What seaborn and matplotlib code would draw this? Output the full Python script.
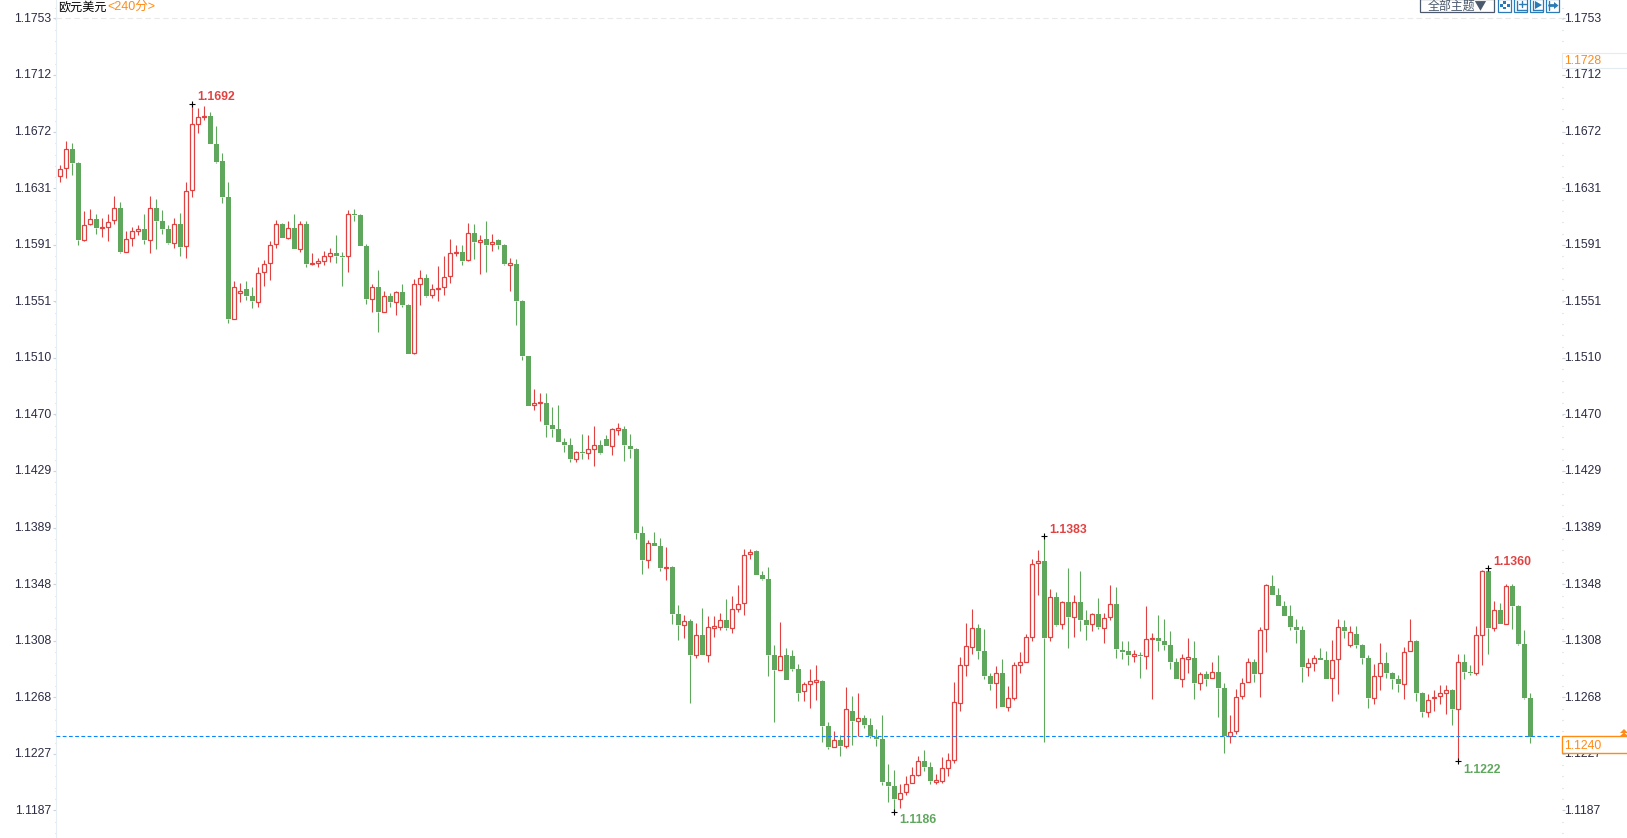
import matplotlib
matplotlib.use("Agg")
import matplotlib.pyplot as plt
from matplotlib.patches import Rectangle, Polygon
from matplotlib.lines import Line2D
from matplotlib.ticker import AutoMinorLocator
from matplotlib.transforms import ScaledTranslation
import numpy as np
import pandas as pd
import seaborn as sns

# ------------------------------------------------------------------ data
highs = [
 1.16482,1.16653,1.16639,1.16505,1.16153,1.16167,1.16131,1.16103,1.16131,1.16260,
 1.16217,1.16010,1.16039,1.16053,1.16131,1.16260,1.16239,1.16160,1.16053,1.16103,
 1.16139,1.16360,1.16917,1.16889,1.16903,1.16860,1.16760,1.16567,1.16360,1.15653,
 1.15638,1.15653,1.15610,1.15753,1.15803,1.15938,1.16089,1.16067,1.16081,1.16131,
 1.16079,1.16079,1.15853,1.15815,1.15867,1.15889,1.15981,1.15860,1.16160,1.16167,
 1.16131,1.15917,1.15631,1.15731,1.15581,1.15567,1.15581,1.15631,1.15488,1.15667,
 1.15731,1.15703,1.15631,1.15760,1.15831,1.15953,1.15910,1.15910,1.16067,1.16060,
 1.15981,1.16081,1.15989,1.15953,1.15917,1.15817,1.15810,1.15515,1.15117,1.14881,
 1.14853,1.14853,1.14753,1.14767,1.14531,1.14531,1.14438,1.14560,1.14553,1.14617,
 1.14517,1.14553,1.14603,1.14638,1.14617,1.14560,1.14460,1.13902,1.13802,1.13859,
 1.13816,1.13752,1.13616,1.13338,1.13266,1.13238,1.13209,1.13316,1.13259,1.13259,
 1.13281,1.13381,1.13402,1.13481,1.13738,1.13738,1.13731,1.13581,1.13609,1.13052,
 1.13216,1.13030,1.13016,1.12916,1.12787,1.12880,1.12909,1.12802,1.12502,1.12437,
 1.12409,1.12752,1.12687,1.12709,1.12552,1.12530,1.12451,1.12552,1.12201,1.12158,
 1.12058,1.12116,1.12180,1.12259,1.12301,1.12216,1.12130,1.12251,1.12280,1.12787,
 1.12966,1.13209,1.13309,1.13202,1.13166,1.12852,1.12902,1.12952,1.12759,1.12930,
 1.13002,1.13130,1.13666,1.13731,1.13831,1.13452,1.13431,1.13366,1.13602,1.13409,
 1.13581,1.13302,1.13280,1.13388,1.13280,1.13481,1.13466,1.13080,1.13080,1.13016,
 1.13002,1.13331,1.13138,1.13266,1.13238,1.13152,1.12959,1.12988,1.13102,1.13080,
 1.12859,1.12866,1.12930,1.12980,1.12780,1.12551,1.12737,1.12815,1.12958,1.12951,
 1.13180,1.13487,1.13551,1.13459,1.13366,1.13337,1.13237,1.13187,1.12958,1.12980,
 1.13030,1.13008,1.13087,1.13237,1.13230,1.13187,1.13187,1.13058,1.12980,1.12915,
 1.13065,1.13001,1.12858,1.12837,1.13037,1.13237,1.13087,1.12715,1.12701,1.12730,
 1.12765,1.12765,1.12737,1.12987,1.12987,1.12908,1.13187,1.13587,1.13601,1.13366,
 1.13352,1.13487,1.13487,1.13337,1.13159,1.12709,
]
body_tops = [
 1.16451,1.16594,1.16596,1.16496,1.16050,1.16093,1.16096,1.16036,1.16072,1.16172,
 1.16174,1.15950,1.16008,1.16022,1.16024,1.16172,1.16174,1.16081,1.16024,1.16058,
 1.16060,1.16293,1.16772,1.16822,1.16832,1.16832,1.16632,1.16510,1.16253,1.15607,
 1.15581,1.15595,1.15545,1.15707,1.15772,1.15908,1.16058,1.16060,1.16029,1.16031,
 1.16058,1.16060,1.15779,1.15793,1.15829,1.15850,1.15853,1.15831,1.16129,1.16131,
 1.16124,1.15903,1.15607,1.15610,1.15543,1.15546,1.15572,1.15574,1.15481,1.15629,
 1.15672,1.15674,1.15593,1.15603,1.15679,1.15850,1.15860,1.15860,1.15993,1.15996,
 1.15943,1.15950,1.15929,1.15946,1.15910,1.15779,1.15774,1.15510,1.15117,1.14779,
 1.14786,1.14781,1.14624,1.14595,1.14502,1.14481,1.14429,1.14431,1.14450,1.14479,
 1.14481,1.14524,1.14593,1.14600,1.14595,1.14474,1.14452,1.13852,1.13778,1.13781,
 1.13759,1.13609,1.13609,1.13273,1.13221,1.13223,1.13121,1.13123,1.13178,1.13185,
 1.13228,1.13230,1.13307,1.13342,1.13693,1.13719,1.13721,1.13552,1.13523,1.12980,
 1.12971,1.12980,1.12973,1.12880,1.12771,1.12792,1.12799,1.12794,1.12473,1.12370,
 1.12373,1.12592,1.12580,1.12528,1.12530,1.12480,1.12394,1.12380,1.12073,1.12044,
 1.11992,1.12056,1.12120,1.12220,1.12223,1.12180,1.12085,1.12170,1.12228,1.12642,
 1.12906,1.13042,1.13171,1.13173,1.13009,1.12830,1.12849,1.12852,1.12671,1.12907,
 1.12928,1.13107,1.13628,1.13650,1.13652,1.13392,1.13395,1.13357,1.13359,1.13357,
 1.13359,1.13230,1.13271,1.13273,1.13242,1.13342,1.13345,1.13016,1.13009,1.12988,
 1.12980,1.13092,1.13104,1.13102,1.13080,1.13052,1.12930,1.12957,1.12966,1.12959,
 1.12842,1.12844,1.12856,1.12856,1.12744,1.12427,1.12677,1.12777,1.12927,1.12930,
 1.13156,1.13478,1.13473,1.13409,1.13330,1.13258,1.13180,1.13158,1.12920,1.12956,
 1.12958,1.12944,1.12942,1.13177,1.13180,1.13142,1.13130,1.13051,1.12958,1.12827,
 1.12920,1.12923,1.12851,1.12808,1.12999,1.13077,1.13080,1.12708,1.12656,1.12680,
 1.12706,1.12727,1.12730,1.12927,1.12930,1.12858,1.13120,1.13578,1.13580,1.13299,
 1.13302,1.13473,1.13473,1.13330,1.13059,1.12673,
]
body_bottoms = [
 1.16405,1.16458,1.16498,1.15946,1.15948,1.16058,1.16031,1.16029,1.16036,1.16086,
 1.15860,1.15862,1.15958,1.16012,1.15946,1.15948,1.16081,1.16024,1.15924,1.15927,
 1.15896,1.15900,1.16301,1.16777,1.16827,1.16632,1.16503,1.16253,1.15381,1.15383,
 1.15565,1.15545,1.15510,1.15505,1.15715,1.15779,1.15915,1.15960,1.15962,1.15881,
 1.15884,1.15774,1.15774,1.15784,1.15798,1.15834,1.15831,1.15827,1.15829,1.16127,
 1.15903,1.15524,1.15526,1.15431,1.15434,1.15503,1.15505,1.15481,1.15131,1.15136,
 1.15634,1.15546,1.15550,1.15596,1.15607,1.15686,1.15853,1.15796,1.15800,1.15931,
 1.15934,1.15910,1.15915,1.15910,1.15774,1.15769,1.15510,1.15117,1.14762,1.14765,
 1.14779,1.14624,1.14595,1.14502,1.14481,1.14381,1.14383,1.14426,1.14426,1.14455,
 1.14424,1.14474,1.14476,1.14591,1.14481,1.14452,1.13852,1.13659,1.13662,1.13759,
 1.13602,1.13602,1.13273,1.13195,1.13197,1.12980,1.12983,1.12980,1.12983,1.13176,
 1.13183,1.13173,1.13176,1.13311,1.13349,1.13700,1.13552,1.13523,1.12980,1.12873,
 1.12875,1.12802,1.12880,1.12709,1.12725,1.12775,1.12790,1.12473,1.12323,1.12325,
 1.12330,1.12332,1.12509,1.12511,1.12480,1.12401,1.12380,1.12073,1.12044,1.11951,
 1.11954,1.12004,1.12063,1.12125,1.12180,1.12080,1.12075,1.12082,1.12175,1.12232,
 1.12635,1.12911,1.13035,1.13009,1.12830,1.12773,1.12778,1.12609,1.12611,1.12675,
 1.12911,1.12933,1.13111,1.13635,1.13102,1.13107,1.13195,1.13200,1.13252,1.13254,
 1.13230,1.13195,1.13200,1.13180,1.13176,1.13250,1.13023,1.13002,1.12980,1.12973,
 1.12976,1.12976,1.13097,1.13080,1.13052,1.12930,1.12809,1.12811,1.12954,1.12780,
 1.12783,1.12809,1.12813,1.12744,1.12399,1.12401,1.12434,1.12684,1.12784,1.12844,
 1.12849,1.13163,1.13409,1.13330,1.13258,1.13180,1.13158,1.12894,1.12896,1.12925,
 1.12944,1.12808,1.12813,1.12949,1.13151,1.13049,1.13051,1.12958,1.12672,1.12675,
 1.12832,1.12851,1.12808,1.12773,1.12775,1.13006,1.12708,1.12572,1.12575,1.12672,
 1.12684,1.12711,1.12594,1.12596,1.12858,1.12853,1.12853,1.13125,1.13173,1.13175,
 1.13202,1.13204,1.13330,1.13059,1.12673,1.12397,
]
lows = [
 1.16362,1.16391,1.16410,1.15910,1.15938,1.16055,1.15989,1.15967,1.15938,1.16062,
 1.15855,1.15862,1.15903,1.15981,1.15915,1.15853,1.15881,1.15989,1.15917,1.15888,
 1.15831,1.15817,1.16253,1.16710,1.16803,1.16632,1.16493,1.16210,1.15353,1.15381,
 1.15503,1.15517,1.15460,1.15467,1.15617,1.15660,1.15888,1.15960,1.15953,1.15881,
 1.15860,1.15753,1.15767,1.15753,1.15767,1.15788,1.15781,1.15617,1.15717,1.16081,
 1.15903,1.15488,1.15431,1.15288,1.15434,1.15467,1.15410,1.15467,1.15131,1.15133,
 1.15481,1.15538,1.15531,1.15510,1.15553,1.15638,1.15831,1.15767,1.15797,1.15810,
 1.15703,1.15717,1.15867,1.15881,1.15767,1.15581,1.15338,1.15090,1.14762,1.14731,
 1.14653,1.14538,1.14538,1.14502,1.14431,1.14360,1.14360,1.14381,1.14381,1.14331,
 1.14417,1.14474,1.14410,1.14553,1.14367,1.14388,1.13809,1.13559,1.13602,1.13759,
 1.13581,1.13516,1.13202,1.13088,1.13102,1.12641,1.12959,1.12980,1.12930,1.13109,
 1.13159,1.13159,1.13138,1.13288,1.13266,1.13666,1.13552,1.13516,1.12830,1.12502,
 1.12875,1.12802,1.12866,1.12652,1.12652,1.12602,1.12659,1.12359,1.12309,1.12325,
 1.12259,1.12316,1.12337,1.12401,1.12459,1.12387,1.12330,1.12051,1.11929,1.11858,
 1.11886,1.11980,1.12063,1.12116,1.12151,1.12058,1.12058,1.12066,1.12116,1.12209,
 1.12580,1.12830,1.12988,1.12952,1.12809,1.12730,1.12602,1.12609,1.12580,1.12659,
 1.12852,1.12933,1.13080,1.13409,1.12358,1.13080,1.13188,1.13166,1.13030,1.13109,
 1.13152,1.13088,1.13152,1.13166,1.13066,1.13230,1.12959,1.12952,1.12909,1.12930,
 1.12816,1.12880,1.12666,1.13009,1.13016,1.12880,1.12809,1.12752,1.12852,1.12666,
 1.12730,1.12759,1.12813,1.12537,1.12279,1.12351,1.12415,1.12665,1.12784,1.12787,
 1.12680,1.13001,1.13409,1.13330,1.13258,1.13158,1.13065,1.12787,1.12830,1.12865,
 1.12944,1.12808,1.12651,1.12701,1.13101,1.13037,1.13030,1.12915,1.12601,1.12630,
 1.12730,1.12815,1.12737,1.12715,1.12665,1.13006,1.12651,1.12537,1.12537,1.12580,
 1.12630,1.12558,1.12480,1.12215,1.12808,1.12837,1.12837,1.12908,1.12987,1.13152,
 1.13202,1.13204,1.13166,1.13052,1.12666,1.12351,
]
# 1 = close above open (hollow red), 0 = close below open (solid green)
rising = [
 1,1,0,0,1,1,0,1,1,1, 0,1,1,1,0,1,0,0,0,1, 0,1,1,1,1,0,0,0,0,1,
 1,0,0,1,1,1,1,0,1,0, 1,0,1,1,1,1,0,0,1,0, 0,0,1,0,1,0,1,0,0,1,
 1,0,1,1,1,1,1,0,1,0, 1,0,1,0,0,1,0,0,0,1, 1,0,0,0,0,0,1,0,1,1,
 0,0,1,1,0,0,0,0,1,0, 0,1,0,0,1,0,1,0,1,1, 1,0,1,1,1,1,0,0,0,0,
 1,0,0,0,1,1,1,0,0,1, 0,1,0,1,0,0,0,0,0,0, 1,1,1,1,0,0,1,1,1,1,
 1,1,1,0,0,0,1,0,1,1, 1,1,1,1,0,1,0,1,0,1, 0,0,1,0,1,1,0,0,0,1,
 0,1,1,0,0,0,0,1,1,0, 1,0,1,0,0,1,1,1,1,0, 1,1,0,0,0,0,0,0,1,1,
 0,0,1,1,0,1,0,0,0,1, 1,0,0,0,1,1,0,0,1,1, 1,1,0,1,0,0,1,1,0,1,
 0,1,0,0,0,0,
]
tick_values = [1.17530,1.17126,1.16721,1.16317,1.15913,1.15509,1.15104,1.14700,
               1.14296,1.13891,1.13487,1.13083,1.12679,1.12274,1.11870]
tick_labels = ["1.1753","1.1712","1.1672","1.1631","1.1591","1.1551","1.1510","1.1470",
               "1.1429","1.1389","1.1348","1.1308","1.1268","1.1227","1.1187"]
extreme_index = [22, 164, 238, 233, 139]
extreme_value = [1.1692, 1.1383, 1.1360, 1.1222, 1.1186]
extreme_label = ["1.1692", "1.1383", "1.1360", "1.1222", "1.1186"]
extreme_is_high = [True, True, True, False, False]
last_price = 1.1240
period_high = "1.1728"
last_label = "1.1240"

df = pd.DataFrame({"i": np.arange(len(highs)), "high": highs, "low": lows,
                   "top": body_tops, "bottom": body_bottoms, "rising": rising})
df["height"] = df["top"] - df["bottom"]
extremes = pd.DataFrame({"i": extreme_index, "price": extreme_value,
                         "label": extreme_label, "is_high": extreme_is_high})

RED = "#e04242"
GREEN = "#5fa75d"
BLUE = "#0a84ff"
ORANGE = "#ff8a14"
AXIS_TXT = "#2c2c44"
ICON = "#2a7bb8"

W, H = 1627, 838
sns.set_theme(style="white")
plt.rcParams["font.family"] = ["Liberation Sans", "Noto Sans CJK SC", "DejaVu Sans"]

fig = plt.figure(figsize=(W / 100, H / 100), dpi=100, facecolor="white")
ax = fig.add_axes([56 / W, 0, (1562 - 56) / W, 1], facecolor="white")


def fx(x):
    return x / W


def fy(y):
    return 1 - y / H


# wicks (not through the hollow bodies)
for flag, c in ((1, RED), (0, GREEN)):
    sub = df[df.rising == flag]
    for a, b in (("top", "high"), ("low", "bottom")):
        lc = ax.vlines(sub["i"], sub[a], sub[b], color=c, linewidth=0.8, zorder=2)
        lc.set_snap(True)

# bodies
down = df[df.rising == 0]
up = df[df.rising == 1]
sns.barplot(data=down, x="i", y="height", bottom=down["bottom"].values, native_scale=True,
            width=0.82, color=GREEN, saturation=1, errorbar=None, linewidth=0,
            legend=False, ax=ax, zorder=3)
sns.barplot(data=up, x="i", y="height", bottom=up["bottom"].values, native_scale=True,
            width=0.68, color=RED, saturation=1, errorbar=None, linewidth=0.9,
            edgecolor=RED, facecolor="white", legend=False, ax=ax, zorder=3)

# extreme markers and labels
sns.scatterplot(data=extremes, x="i", y="price", marker="+", s=20, color="black",
                linewidth=0.8, legend=False, ax=ax, zorder=5)
for _, row in extremes.iterrows():
    hi = row["is_high"]
    ax.annotate(row["label"], (row["i"], row["price"]), xytext=(3.4, 4.5 if hi else -6.0),
                textcoords="offset points", ha="left", va="center", fontsize=8.8,
                fontweight="bold", color=RED if hi else GREEN, zorder=6)

# last price and top grid
ax.axhline(last_price, color=BLUE, linewidth=0.8, linestyle=(0, (3.4, 2.2)), zorder=4)
ax.axhline(tick_values[0], color="#e9e9e9", linewidth=0.8, linestyle=(0, (5, 3)), zorder=1)

# scales: pixel 18.3 is the top tick, 810.4 the bottom tick
ax.set_xlim((56 - 60.3) / 6, (1562 - 60.3) / 6)
per_px = (tick_values[0] - tick_values[-1]) / (810.4 - 18.3)
ax.set_ylim(tick_values[0] - (H - 18.3) * per_px, tick_values[0] + 18.3 * per_px)
ax.set_xlabel("")
ax.set_ylabel("")
ax.set_xticks([])
ax.set_yticks(tick_values)
ax.set_yticklabels(tick_labels)
ax.yaxis.set_minor_locator(AutoMinorLocator(5))
ax.tick_params(axis="y", which="major", left=True, right=True, labelleft=True, labelright=True,
               length=2.2, width=0.8, color="#c9d5dd", labelsize=8.8, labelcolor=AXIS_TXT, pad=0.6)
ax.tick_params(axis="y", which="minor", left=True, right=True, length=1.0, width=0.8, color="#cfd4d8")
for tick in ax.yaxis.get_major_ticks():
    tick.label1.set_transform(tick.label1.get_transform()
                              + ScaledTranslation(-1 / 100, 1 / 100, fig.dpi_scale_trans))
    tick.label2.set_transform(tick.label2.get_transform()
                              + ScaledTranslation(-2 / 100, 1 / 100, fig.dpi_scale_trans))
for s in ("top", "bottom", "right"):
    ax.spines[s].set_visible(False)
ax.spines["left"].set_color("#e6eef4")
ax.spines["left"].set_linewidth(0.8)

# title
fig.text(fx(58), fy(7), "欧元美元", fontsize=8.7, color="black", va="center", ha="left",
         family=["Noto Sans CJK SC", "DejaVu Sans"])
fig.text(fx(107.5), fy(7), "<240分>", fontsize=9.0, color=ORANGE, va="center", ha="left",
         family=["Liberation Sans", "Noto Sans CJK SC"])

# top-right controls
fig.add_artist(Rectangle((fx(1420), fy(12)), 74 / W, 13 / H, transform=fig.transFigure,
                         facecolor="white", edgecolor="#4a5a6c", linewidth=0.9))
fig.text(fx(1457), fy(6), "全部主题▼", fontsize=8.6, color="#4a5a6c", ha="center", va="center",
         family=["Noto Sans CJK SC", "DejaVu Sans"])


def line(x0, y0, x1, y1, lw=1.0):
    fig.add_artist(Line2D([fx(x0), fx(x1)], [fy(y0), fy(y1)], transform=fig.transFigure,
                          color=ICON, linewidth=lw))


for x0 in (1498, 1514, 1530, 1546):
    fig.add_artist(Rectangle((fx(x0), fy(12)), 13 / W, 13 / H, transform=fig.transFigure,
                             facecolor="white", edgecolor=ICON, linewidth=0.9))
# icon 1: cross of dots
for dx, dy in ((5, 1.5), (5, 7), (1.5, 4.5), (8.5, 4.5)):
    fig.add_artist(Rectangle((fx(1498 + dx), fy(dy + 2.5)), 3 / W, 2.5 / H, transform=fig.transFigure,
                             facecolor=ICON, edgecolor="none"))
# icon 2: axes with double arrow
line(1517, 1, 1517, 10)
line(1517, 10, 1527, 10)
line(1522, 1, 1522, 7)
line(1519, 4, 1526, 4)
# icon 3: axes with play triangle
line(1533, 1, 1533, 10)
line(1533, 10, 1543, 10)
fig.add_artist(Polygon([(fx(1535), fy(1)), (fx(1542), fy(5)), (fx(1535), fy(9))],
                       transform=fig.transFigure, facecolor=ICON, edgecolor="none"))
# icon 4: arrow to a bar
line(1549, 1, 1549, 10)
line(1549, 5.5, 1555, 5.5, lw=2.0)
fig.add_artist(Polygon([(fx(1554), fy(2)), (fx(1558.5), fy(5.5)), (fx(1554), fy(9))],
                       transform=fig.transFigure, facecolor=ICON, edgecolor="none"))

# right-hand value boxes
fig.add_artist(Rectangle((fx(1562), fy(68)), 66 / W, 15 / H, transform=fig.transFigure,
                         facecolor="white", edgecolor="#e4ecf1", linewidth=0.8))
fig.text(fx(1564), fy(61), period_high, fontsize=8.8, color=ORANGE, ha="left", va="center")
fig.add_artist(Rectangle((fx(1561.5), fy(753)), 67 / W, 17 / H, transform=fig.transFigure,
                         facecolor="white", edgecolor=ORANGE, linewidth=1.0))
fig.text(fx(1564), fy(745.5), last_label, fontsize=8.8, color=ORANGE, ha="left", va="center")
fig.add_artist(Polygon([(fx(1620), fy(733)), (fx(1624), fy(729)), (fx(1628), fy(733))],
                       transform=fig.transFigure, facecolor=ORANGE, edgecolor="none"))
fig.add_artist(Polygon([(fx(1620), fy(736)), (fx(1624), fy(732.5)), (fx(1628), fy(736))],
                       transform=fig.transFigure, facecolor=ORANGE, edgecolor="none"))

fig.savefig("out.png", dpi=100)
